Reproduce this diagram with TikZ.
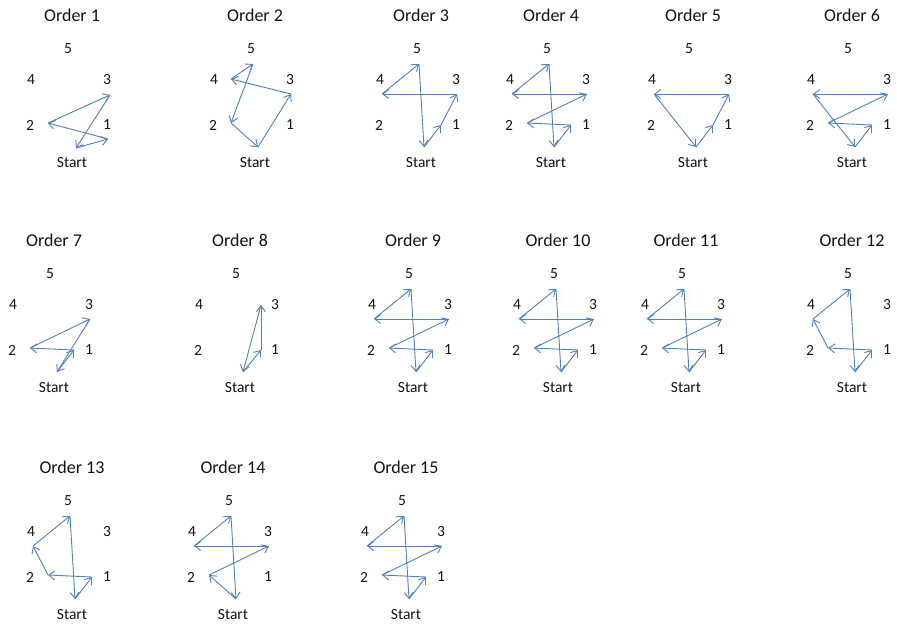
\documentclass[tikz,border=0pt]{standalone}
\usepackage{fontspec}
\setmainfont{Carlito}
\usepackage{tikz}
\usetikzlibrary{arrows.meta}
\definecolor{routeBlue}{RGB}{79,129,189}
\definecolor{labelDark}{RGB}{20,20,20}

% one panel: labels and the default route points
\newcommand{\orderpanel}[4]{%
  \node[paneltitle] (#1-t) at (#2+4,#3) {Order #4};
  \node[ptlabel] (#1-l5) at (#2,#3+34) {5};
  \node[ptlabel] (#1-l4) at (#2-37,#3+65) {4};
  \node[ptlabel] (#1-l3) at (#2+39,#3+65) {3};
  \node[ptlabel] (#1-l2) at (#2-38,#3+110) {2};
  \node[ptlabel] (#1-l1) at (#2+39,#3+110) {1};
  \node[ptlabel] (#1-ls) at (#2+4,#3+148) {Start};
  \coordinate (#1-5) at (#2+2,#3+49);
  \coordinate (#1-4) at (#2-35,#3+79);
  \coordinate (#1-3) at (#2+40,#3+79);
  \coordinate (#1-2) at (#2-20,#3+108);
  \coordinate (#1-1) at (#2+24,#3+110);
  \coordinate (#1-s) at (#2+7,#3+132);
}

\begin{document}
\begin{tikzpicture}[
    x=1pt, y=-1pt,
    paneltitle/.style={inner sep=0pt, text=labelDark,
    font=\fontsize{18}{21}\selectfont},
    ptlabel/.style={inner sep=0pt, text=labelDark,
    font=\fontsize{15.5}{18}\selectfont},
    arrow/.style={-{Straight Barb[length=6pt,width=9pt]}, line width=0.9pt,
    color=routeBlue}
]
\useasboundingbox[fill=white] (0,0) rectangle (897,630);

% Order 1
\orderpanel{pa}{68}{15}{1}
\coordinate (pa-1) at (108,139);
\coordinate (pa-3) at (110,95);
\coordinate (pa-s) at (76,148);
\foreach \a/\b in {s/1,1/2,2/3,3/s}
  \draw[arrow] (pa-\a) -- (pa-\b);

% Order 2
\orderpanel{pb}{251}{15}{2}
\coordinate (pb-4) at (231,79);
\foreach \a/\b in {s/3,3/4,4/5,5/2,2/s}
  \draw[arrow] (pb-\a) -- (pb-\b);

% Order 3
\orderpanel{pc}{417}{15}{3}
\foreach \a/\b in {s/1,1/3,3/4,4/5,5/s}
  \draw[arrow] (pc-\a) -- (pc-\b);

% Order 4
\orderpanel{pd}{547}{15}{4}
\foreach \a/\b in {s/1,1/2,2/3,3/4,4/5,5/s}
  \draw[arrow] (pd-\a) -- (pd-\b);

% Order 5
\orderpanel{pe}{689}{15}{5}
\foreach \a/\b in {s/1,1/3,3/4,4/s}
  \draw[arrow] (pe-\a) -- (pe-\b);

% Order 6
\orderpanel{pf}{848}{15}{6}
\foreach \a/\b in {s/1,1/2,2/3,3/4,4/s}
  \draw[arrow] (pf-\a) -- (pf-\b);

% Order 7
\orderpanel{pg}{50}{240}{7}
\foreach \a/\b in {s/1,1/2,2/3,3/s}
  \draw[arrow] (pg-\a) -- (pg-\b);

% Order 8
\orderpanel{ph}{236}{240}{8}
\coordinate (ph-3) at (261,305);
\coordinate (ph-1) at (261,350);
\foreach \a/\b in {s/1,1/3,3/s}
  \draw[arrow] (ph-\a) -- (ph-\b);

% Order 9
\orderpanel{pi}{409}{240}{9}
\foreach \a/\b in {s/1,1/2,2/3,3/4,4/5,5/s}
  \draw[arrow] (pi-\a) -- (pi-\b);

% Order 10
\orderpanel{pj}{554}{240}{10}
\foreach \a/\b in {s/1,1/2,2/3,3/4,4/5,5/s}
  \draw[arrow] (pj-\a) -- (pj-\b);

% Order 11
\orderpanel{pk}{682}{240}{11}
\foreach \a/\b in {s/1,1/2,2/3,3/4,4/5,5/s}
  \draw[arrow] (pk-\a) -- (pk-\b);

% Order 12
\orderpanel{pl}{848}{240}{12}
\foreach \a/\b in {s/1,1/2,2/4,4/5,5/s}
  \draw[arrow] (pl-\a) -- (pl-\b);

% Order 13
\orderpanel{pm}{68}{467}{13}
\foreach \a/\b in {s/1,1/2,2/4,4/5,5/s}
  \draw[arrow] (pm-\a) -- (pm-\b);

% Order 14
\orderpanel{pn}{229}{467}{14}
\foreach \a/\b in {s/2,2/3,3/4,4/5,5/s}
  \draw[arrow] (pn-\a) -- (pn-\b);

% Order 15
\orderpanel{po}{402}{467}{15}
\foreach \a/\b in {s/1,1/2,2/3,3/4,4/5,5/s}
  \draw[arrow] (po-\a) -- (po-\b);
\end{tikzpicture}
\end{document}
